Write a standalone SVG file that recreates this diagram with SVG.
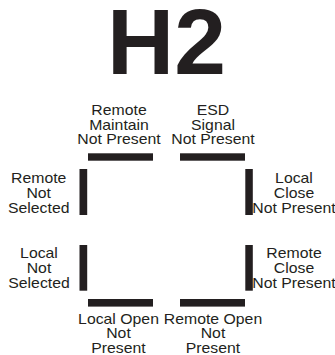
<svg xmlns="http://www.w3.org/2000/svg" width="335" height="355" viewBox="0 0 335 355">
<style>
.bar{fill:#231f20}
.lbl{font-family:"Liberation Sans",Arial,sans-serif;font-size:14px;fill:#231f20;text-anchor:middle}
.title{font-family:"Liberation Sans",Arial,sans-serif;font-size:93px;font-weight:bold;fill:#231f20;text-anchor:middle}
</style>
<rect width="335" height="355" fill="#fff"/>
<g id="title"><text class="title" x="166.5" y="74">H2</text></g>
<g id="connectors"></g>
<g id="remote-maintain">
<rect class="bar" x="88" y="153.3" width="65" height="7.4"/>
<g transform="translate(119,0) scale(1.13,1)"><text class="lbl" y="115.5"><tspan x="0">Remote</tspan><tspan x="0" dy="14.5">Maintain</tspan><tspan x="0" dy="14.5">Not Present</tspan></text></g>
</g>
<g id="esd-signal">
<rect class="bar" x="180" y="153.3" width="65" height="7.4"/>
<g transform="translate(213,0) scale(1.13,1)"><text class="lbl" y="115.5"><tspan x="0">ESD</tspan><tspan x="0" dy="14.5">Signal</tspan><tspan x="0" dy="14.5">Not Present</tspan></text></g>
</g>
<g id="remote-not-selected">
<rect class="bar" x="79.5" y="169" width="7.7" height="46"/>
<g transform="translate(38.7,0) scale(1.13,1)"><text class="lbl" y="183.3"><tspan x="0">Remote</tspan><tspan x="0" dy="15">Not</tspan><tspan x="0" dy="15">Selected</tspan></text></g>
</g>
<g id="local-close">
<rect class="bar" x="245.3" y="169" width="7.5" height="46"/>
<g transform="translate(294,0) scale(1.13,1)"><text class="lbl" y="183.3"><tspan x="0">Local</tspan><tspan x="0" dy="15">Close</tspan><tspan x="0" dy="15">Not Present</tspan></text></g>
</g>
<g id="local-not-selected">
<rect class="bar" x="79.5" y="245" width="7.7" height="45.7"/>
<g transform="translate(39,0) scale(1.13,1)"><text class="lbl" y="258.3"><tspan x="0">Local</tspan><tspan x="0" dy="14.7">Not</tspan><tspan x="0" dy="14.7">Selected</tspan></text></g>
</g>
<g id="remote-close">
<rect class="bar" x="245.3" y="245" width="7.5" height="45.7"/>
<g transform="translate(294,0) scale(1.13,1)"><text class="lbl" y="258.3"><tspan x="0">Remote</tspan><tspan x="0" dy="14.7">Close</tspan><tspan x="0" dy="14.7">Not Present</tspan></text></g>
</g>
<g id="local-open">
<rect class="bar" x="88" y="299" width="65" height="7.6"/>
<g transform="translate(118.5,0) scale(1.13,1)"><text class="lbl" y="324"><tspan x="0">Local Open</tspan><tspan x="0" dy="14.5">Not</tspan><tspan x="0" dy="14.5">Present</tspan></text></g>
</g>
<g id="remote-open">
<rect class="bar" x="180" y="299" width="65" height="7.6"/>
<g transform="translate(213,0) scale(1.13,1)"><text class="lbl" y="324"><tspan x="0">Remote Open</tspan><tspan x="0" dy="14.5">Not</tspan><tspan x="0" dy="14.5">Present</tspan></text></g>
</g>
</svg>
